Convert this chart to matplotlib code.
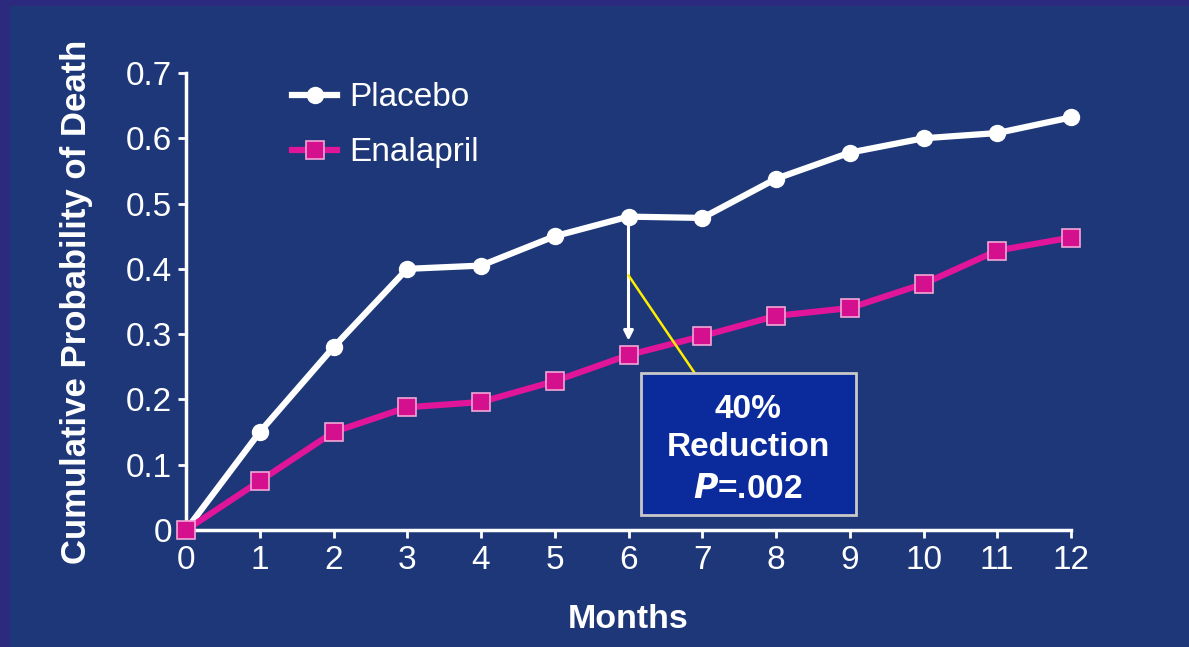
import matplotlib.pyplot as plt
from matplotlib.patches import Rectangle

plt.rcParams['font.family'] = ['Liberation Sans', 'DejaVu Sans']

# Cumulative probability of death by month
months = [0, 1, 2, 3, 4, 5, 6, 7, 8, 9, 10, 11, 12]
placebo = [0, 0.15, 0.28, 0.40, 0.405, 0.45, 0.48, 0.478, 0.538, 0.578, 0.60, 0.608, 0.632]
enalapril = [0, 0.075, 0.15, 0.188, 0.196, 0.228, 0.268, 0.297, 0.328, 0.34, 0.377, 0.428, 0.448]
yticks = [0, 0.1, 0.2, 0.3, 0.4, 0.5, 0.6, 0.7]
ytick_labels = ["0", "0.1", "0.2", "0.3", "0.4", "0.5", "0.6", "0.7"]

bg = '#1d3778'
border = '#2b2a7e'
magenta = '#e0159a'

f = plt.figure(figsize=(11.89, 6.47), dpi=100)
f.patch.set_facecolor(border)
# inner slide panel
f.patches.append(Rectangle((10 / 1189, 0), 1, 1 - 6 / 647, transform=f.transFigure,
                           facecolor=bg, edgecolor='none', zorder=-10))

ax = f.add_axes([186 / 1189, 1 - 530 / 647, (1071 - 186) / 1189, (530 - 73) / 647])
ax.set_facecolor('none')

ax.plot(months, placebo, '-o', color='white', lw=4.5, ms=11.5, mec='white', mfc='white',
        label="Placebo", zorder=4, clip_on=False)
ax.plot(months, enalapril, '-s', color=magenta, lw=4.5, ms=13.5, mec='#f2a6d6', mfc='#d4108e',
        mew=1.2, label="Enalapril", zorder=5, clip_on=False)

ax.set_xlim(0, 12)
ax.set_ylim(0, 0.7)
ax.set_xticks(months)
ax.set_yticks(yticks)
ax.set_yticklabels(ytick_labels)

for s in ['top', 'right']:
    ax.spines[s].set_visible(False)
for s in ['left', 'bottom']:
    ax.spines[s].set_color('white')
    ax.spines[s].set_linewidth(2.5)
ax.tick_params(colors='white', labelsize=24, width=2, length=6, direction='out')
ax.tick_params(axis='x', pad=5)
ax.tick_params(axis='y', pad=4)

ax.set_xlabel("Months", color='white', fontsize=24.5, fontweight='bold', labelpad=20)
ax.set_ylabel("Cumulative Probability of Death", color='white', fontsize=25,
              fontweight='bold', labelpad=24)

# arrow from placebo to enalapril at 6 months
ax.annotate("", xy=(6, 0.29), xytext=(6, placebo[6]),
            arrowprops=dict(arrowstyle='-|>', color='white', lw=2.2, mutation_scale=14,
                            shrinkA=0, shrinkB=0), zorder=3)
# yellow leader line to the callout box
ax.plot([6.0, 6.9], [0.39, 0.24], color='#ffee00', lw=1.8, zorder=6)

box = Rectangle((6.17, 0.023), 2.91, 0.217, facecolor='#0b2b9c', edgecolor='#c8c8c8',
                lw=2, zorder=7)
ax.add_patch(box)
ax.text(7.62, 0.185, "40%", color='white', fontsize=24, fontweight='bold',
        ha='center', va='center', zorder=8)
ax.text(7.62, 0.127, "Reduction", color='white', fontsize=24, fontweight='bold',
        ha='center', va='center', zorder=8)
ax.text(7.62, 0.062, "$\\mathbfit{P}$=.002", color='white', fontsize=24, fontweight='bold',
        ha='center', va='center', zorder=8)

leg = ax.legend(loc='upper left', bbox_to_anchor=(0.086, 1.045), frameon=False, fontsize=24,
                handlelength=1.35, handletextpad=0.35, labelspacing=0.72, markerscale=1.0)
for t in leg.get_texts():
    t.set_color('white')

plt.savefig("out.png", dpi=100, facecolor=f.get_facecolor())
